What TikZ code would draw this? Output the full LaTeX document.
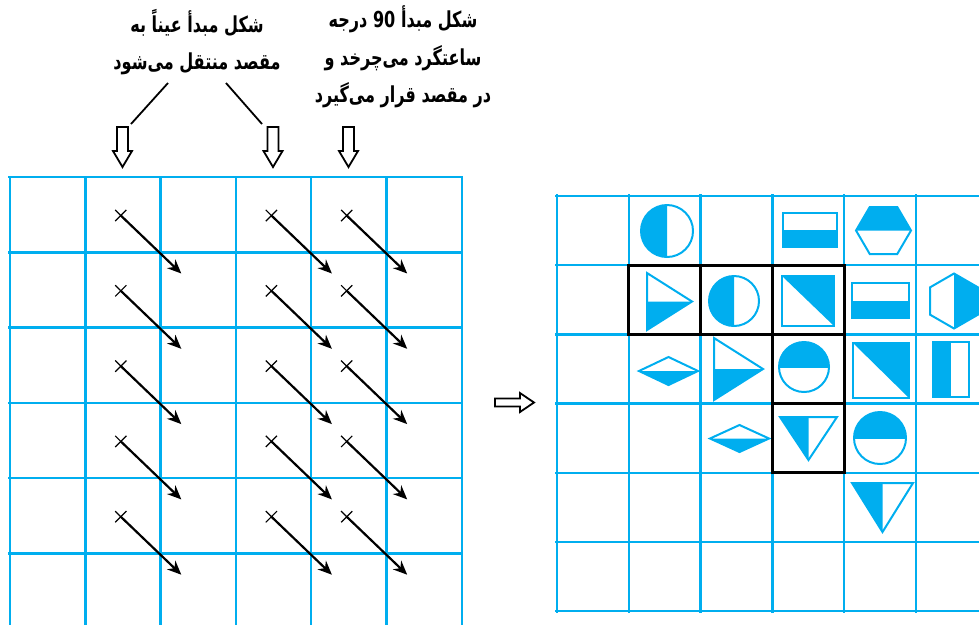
\documentclass[tikz,border=0pt]{standalone}
\usepackage{fontspec}
\newfontfamily\arabicfont[Script=Arabic,FakeStretch=0.73]{DejaVu Sans}
\TeXXeTstate=1
\usetikzlibrary{arrows.meta,shapes.misc}
\definecolor{gridblue}{HTML}{00AEEF}

\begin{document}
\begin{tikzpicture}[x=1pt,y=-1pt]
\tikzset{gridline/.style={draw=gridblue, line width=2.4pt}, }
\tikzset{shp/.style={draw=gridblue, line width=2pt}, }
\tikzset{fillpart/.style={fill=gridblue}, }
\tikzset{crossmark/.style={cross out, draw=black, line width=1.2pt, minimum size=10pt, inner sep=0pt}, }
\tikzset{mv/.style={black, line width=2.2pt, -{Stealth[length=14pt,width=12pt]}}, }
\tikzset{hollow/.style={draw=black, fill=white, line width=1.8pt}, }
\tikzset{blackbox/.style={draw=black, line width=3pt}, }
\tikzset{farsi/.style={font={\arabicfont\bfseries\fontsize{22pt}{37.5pt}\selectfont}, align=center, inner sep=0pt}, }
\useasboundingbox (0,0) rectangle (979,625);

% texts
\node[farsi] (txtsame) at (197,42) {\beginR شکل مبدأ عیناً به\endR\\ \beginR مقصد منتقل می‌شود\endR};
\node[farsi] (txtturn) at (403,57) {\beginR شکل مبدأ \beginL90\endL{} درجه\endR\\ \beginR ساعتگرد می‌چرخد و\endR\\ \beginR در مقصد قرار می‌گیرد\endR};
\coordinate (pa1) at (168,83); \coordinate (pa2) at (131,124);
\coordinate (pb1) at (226,83); \coordinate (pb2) at (262,124);
\draw[black, line width=1.8pt] (pa1) -- (pa2);
\draw[black, line width=1.8pt] (pb1) -- (pb2);

% hollow arrows
\foreach \ax in {122.5,273,348.5}
  \draw[hollow] (\ax-5.5,127) -- (\ax+5.5,127) -- (\ax+5.5,151) -- (\ax+9.5,151) -- (\ax,167)
    -- (\ax-9.5,151) -- (\ax-5.5,151) -- cycle;
\draw[hollow] (495,398.5) -- (520,398.5) -- (520,393) -- (534,402.5) -- (520,412) -- (520,406.5) -- (495,406.5) -- cycle;

% left grid
\foreach \k in {0,...,6}
  \draw[gridline] ({10+75.3*\k},177) -- ({10+75.3*\k},625);
\foreach \k in {0,...,5}
  \draw[gridline] (8,{177+75.3*\k}) -- (463,{177+75.3*\k});
\foreach \c in {1,3,4}
  \foreach \r in {0,...,4} {
    \node[crossmark] (x\c\r) at ({10+75.3*\c+35.5},{177+75.3*\r+38.5}) {};
    \coordinate (e\c\r) at ({10+75.3*\c+96},{177+75.3*\r+96.5});
    \draw[mv] (x\c\r.center) -- (e\c\r);
  }

% right grid
\foreach \k in {0,...,6}
  \draw[gridline] ({557+71.8*\k},194) -- ({557+71.8*\k},613);
\foreach \k in {0,...,6}
  \draw[gridline] (555,{196+69.2*\k}) -- (979,{196+69.2*\k});

% row 0
\begin{scope}\clip (639,203) rectangle (667,259); \fill[fillpart] (667,231) circle[radius=26]; \end{scope}
\draw[shp] (667,231) circle[radius=26];
\fill[fillpart] (783,230) rectangle (837,247);
\draw[shp] (783,213) rectangle (837,247);
\fill[fillpart] (856,230.5) -- (869.75,207) -- (897.25,207) -- (911,230.5) -- cycle;
\draw[shp] (856,230.5) -- (869.75,207) -- (897.25,207) -- (911,230.5) -- (897.25,254) -- (869.75,254) -- cycle;

% row 1
\fill[fillpart] (647,301.5) -- (692,301.5) -- (647,330) -- cycle;
\draw[shp] (647,273) -- (692,301.5) -- (647,330) -- cycle;
\begin{scope}\clip (707,274) rectangle (734,328); \fill[fillpart] (734,301) circle[radius=25]; \end{scope}
\draw[shp] (734,301) circle[radius=25];
\fill[fillpart] (782,276) -- (834,276) -- (834,326) -- cycle;
\draw[shp] (782,276) rectangle (834,326);
\fill[fillpart] (852,300.5) rectangle (909,318);
\draw[shp] (852,283) rectangle (909,318);
\fill[fillpart] (954,273.5) -- (977.8,287.25) -- (977.8,314.75) -- (954,328.5) -- cycle;
\draw[shp] (954,273.5) -- (977.8,287.25) -- (977.8,314.75) -- (954,328.5) -- (930.2,314.75) -- (930.2,287.25) -- cycle;

% row 2
\fill[fillpart] (639,371) -- (698,371) -- (668.5,385) -- cycle;
\draw[shp] (639,371) -- (668.5,357) -- (698,371) -- (668.5,385) -- cycle;
\fill[fillpart] (714,369) -- (763,369) -- (714,400) -- cycle;
\draw[shp] (714,338) -- (763,369) -- (714,400) -- cycle;
\begin{scope}\clip (777,340) rectangle (831,367); \fill[fillpart] (804,367) circle[radius=25]; \end{scope}
\draw[shp] (804,367) circle[radius=25];
\fill[fillpart] (853,343) -- (909,343) -- (909,398) -- cycle;
\draw[shp] (853,343) rectangle (909,398);
\fill[fillpart] (933,342) rectangle (951,397);
\draw[shp] (933,342) rectangle (969,397);

% row 3
\fill[fillpart] (710,438.5) -- (769,438.5) -- (739.5,452) -- cycle;
\draw[shp] (710,438.5) -- (739.5,425) -- (769,438.5) -- (739.5,452) -- cycle;
\fill[fillpart] (780,417) -- (808.5,417) -- (808.5,460) -- cycle;
\draw[shp] (780,417) -- (837,417) -- (808.5,460) -- cycle;
\begin{scope}\clip (852,410) rectangle (908,438); \fill[fillpart] (880,438) circle[radius=26]; \end{scope}
\draw[shp] (880,438) circle[radius=26];

% row 4
\fill[fillpart] (852,483) -- (882.5,483) -- (882.5,532) -- cycle;
\draw[shp] (852,483) -- (913,483) -- (882.5,532) -- cycle;

% black frames
\draw[blackbox] (628.8,265.2) rectangle (844.2,334.4) (700.6,265.2) -- (700.6,334.4) (772.4,265.2) -- (772.4,334.4);
\draw[blackbox] (772.4,334.4) rectangle (844.2,472.8) (772.4,403.6) -- (844.2,403.6);
\end{tikzpicture}
\end{document}
